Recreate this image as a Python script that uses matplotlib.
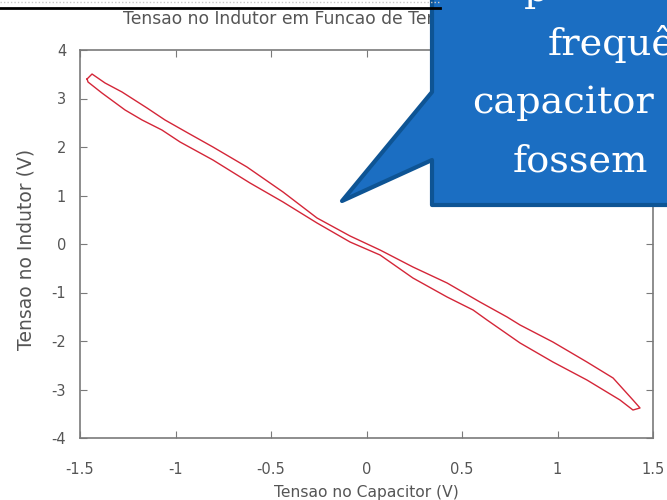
import matplotlib
matplotlib.use("Agg")
import matplotlib.pyplot as plt
from matplotlib.patches import Polygon

# ---- data ----
upper_x = [-1.463, -1.437, -1.369, -1.280, -1.149, -1.055, -0.935, -0.804, -0.626, -0.437,
           -0.259, -0.086, 0.071, 0.243, 0.422, 0.594, 0.736, 0.804, 0.976, 1.154,
           1.291, 1.395, 1.432]
upper_y = [3.402, 3.505, 3.320, 3.134, 2.804, 2.557, 2.289, 2.000, 1.588, 1.072,
           0.536, 0.165, -0.124, -0.474, -0.804, -1.196, -1.505, -1.670, -2.021, -2.433,
           -2.763, -3.216, -3.381]
lower_x = [1.395, 1.327, 1.154, 0.976, 0.804, 0.631, 0.558, 0.422, 0.243, 0.071,
           -0.086, -0.259, -0.437, -0.610, -0.804, -0.976, -1.071, -1.175, -1.264, -1.385,
           -1.458, -1.463]
lower_y = [-3.423, -3.216, -2.804, -2.433, -2.041, -1.567, -1.361, -1.093, -0.701, -0.227,
           0.041, 0.433, 0.866, 1.258, 1.732, 2.103, 2.350, 2.557, 2.763, 3.113,
           3.340, 3.402]

x_ticks = [-1.5, -1.0, -0.5, 0.0, 0.5, 1.0, 1.5]
x_tick_labels = ["-1.5", "-1", "-0.5", "0", "0.5", "1", "1.5"]
y_ticks = [-4, -3, -2, -1, 0, 1, 2, 3, 4]
y_tick_labels = ["-4", "-3", "-2", "-1", "0", "1", "2", "3", "4"]

title = "Tensao no Indutor em Funcao de Tensao no Capacitor"
xlabel = "Tensao no Capacitor (V)"
ylabel = "Tensao no Indutor (V)"
callout_lines = ["p", "frequência", "capacitor", "fossem"]

W, H = 667, 500
fig = plt.figure(figsize=(W / 100, H / 100), dpi=100)
fig.patch.set_facecolor("white")

font = "DejaVu Sans"
txtc = "#555555"
spc = "#7a7a7a"

ax = fig.add_axes([80 / W, 62 / H, 573 / W, 388 / H])
ax.plot(upper_x + lower_x, upper_y + lower_y, color="#d42638", lw=1.0)
ax.set_xlim(-1.5, 1.5)
ax.set_ylim(-4, 4)
ax.set_xticks(x_ticks)
ax.set_xticklabels(x_tick_labels)
ax.set_yticks(y_ticks)
ax.set_yticklabels(y_tick_labels)
ax.tick_params(direction="in", length=5, width=0.8, color=spc,
               top=True, right=True, labelsize=10.5, labelcolor=txtc)
ax.tick_params(axis="x", pad=17)
ax.tick_params(axis="y", pad=10)
for lab in ax.get_xticklabels() + ax.get_yticklabels():
    lab.set_fontfamily(font)
for s in ax.spines.values():
    s.set_color(spc)
    s.set_linewidth(1.2)

ax.set_xlabel(xlabel, fontsize=11.2, color=txtc, family=font, va="center")
ax.xaxis.set_label_coords(0.5, -(492 - 438) / 388)
ax.set_ylabel(ylabel, fontsize=13.5, color=txtc, family=font, va="center")
ax.yaxis.set_label_coords(-(80 - 26) / 573, 0.485)

fig.text(123 / W, 1 - 19 / H, title, ha="left", va="center", fontsize=12.3,
         color=txtc, family=font)

# overlay in pixel coordinates
ov = fig.add_axes([0, 0, 1, 1], zorder=10)
ov.set_xlim(0, W)
ov.set_ylim(H, 0)
ov.axis("off")
ov.patch.set_alpha(0)
ov.plot([0, 440], [1.5, 1.5], color="#c8c8c8", lw=1, ls=(0, (1, 1.5)))
ov.plot([0, 440], [8, 8], color="black", lw=2)

poly = Polygon([(432, -20), (432, 92), (342, 201), (432, 160), (432, 205),
                (700, 205), (700, -20)], closed=True,
               facecolor="#1b6ec2", edgecolor="#0e5494", lw=3, joinstyle="round")
ov.add_patch(poly)

serif = "DejaVu Serif"
fs = 27.5
ov.text(524, 1, callout_lines[0], color="white", fontsize=fs, family=serif, va="baseline")
ov.text(548, 55, callout_lines[1], color="white", fontsize=fs, family=serif, va="baseline")
ov.text(472, 113, callout_lines[2], color="white", fontsize=fs, family=serif, va="baseline")
ov.text(513, 172, callout_lines[3], color="white", fontsize=fs, family=serif, va="baseline")

fig.savefig("out.png", dpi=100)
